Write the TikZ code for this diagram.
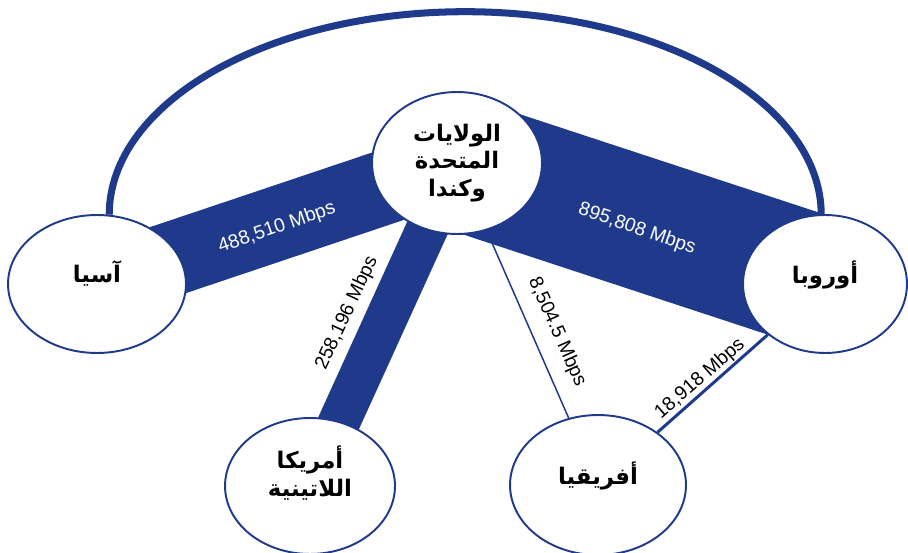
\documentclass[tikz,border=0pt]{standalone}
\usepackage{fontspec}
\newfontfamily\arabicfont[Script=Arabic]{DejaVu Sans}
\newfontfamily\ratefont{Liberation Sans}
\TeXXeTstate=1
\usetikzlibrary{shapes.geometric,backgrounds}
\definecolor{netblue}{RGB}{31,58,138}
\tikzset{
  region/.style={ellipse, draw=netblue, line width=1.1pt, fill=white, inner sep=0pt,
    align=center, font=\arabicfont\bfseries\fontsize{13}{15.5}\selectfont},
  lifted/.style={text depth=#1},
  rate/.style={inner sep=0pt, font=\ratefont\fontsize{11}{12}\selectfont},
  band/.style={netblue, line width=#1}
}
\begin{document}
\begin{tikzpicture}[x=0.02cm, y=0.02cm]
\useasboundingbox (0,0) rectangle (908,-553);
% regions
\node[region, minimum width=3.4cm, minimum height=2.84cm] (us) at (457,-163)
  {\beginR الولايات\endR\\\beginR المتحدة\endR\\\beginR وكندا\endR};
\node[region, lifted=14pt, minimum width=3.56cm, minimum height=2.76cm] (asia) at (97,-284) {\beginR آسيا\endR};
\node[region, lifted=14pt, minimum width=3.28cm, minimum height=2.76cm] (europe) at (825,-284) {\beginR أوروبا\endR};
\node[region, lifted=17pt, minimum width=3.4cm, minimum height=2.72cm] (latam) at (310,-486)
  {\beginR أمريكا\endR\\\beginR اللاتينية\endR};
\node[region, lifted=14pt, minimum width=3.52cm, minimum height=2.8cm] (africa) at (598,-485) {\beginR أفريقيا\endR};
% links
\begin{scope}[on background layer]
\draw[netblue, line width=4pt] (asia.80) arc[start angle=180, end angle=0, x radius=356, y radius=203];
\draw[band=1.48cm] (asia.center) -- (us.center);
\draw[band=2.64cm] (us.center) -- (europe.center);
\draw[band=0.84cm] (us.center) -- (latam.center);
\draw[netblue, line width=0.85pt] (us) -- (africa);
\draw[netblue, line width=1.7pt] (europe) -- (africa);
\end{scope}
% rates
\node[rate, white, rotate=19] (rasia) at (277,-228) {488,510 Mbps};
\node[rate, white, rotate=-19] (reurope) at (637,-229) {895,808 Mbps};
\node[rate, rotate=65] (rlatam) at (347,-313) {258,196 Mbps};
\node[rate, rotate=-66] (rafrica) at (557,-332) {8,504.5 Mbps};
\node[rate, rotate=41] (rea) at (700,-379) {18,918 Mbps};
\end{tikzpicture}
\end{document}
